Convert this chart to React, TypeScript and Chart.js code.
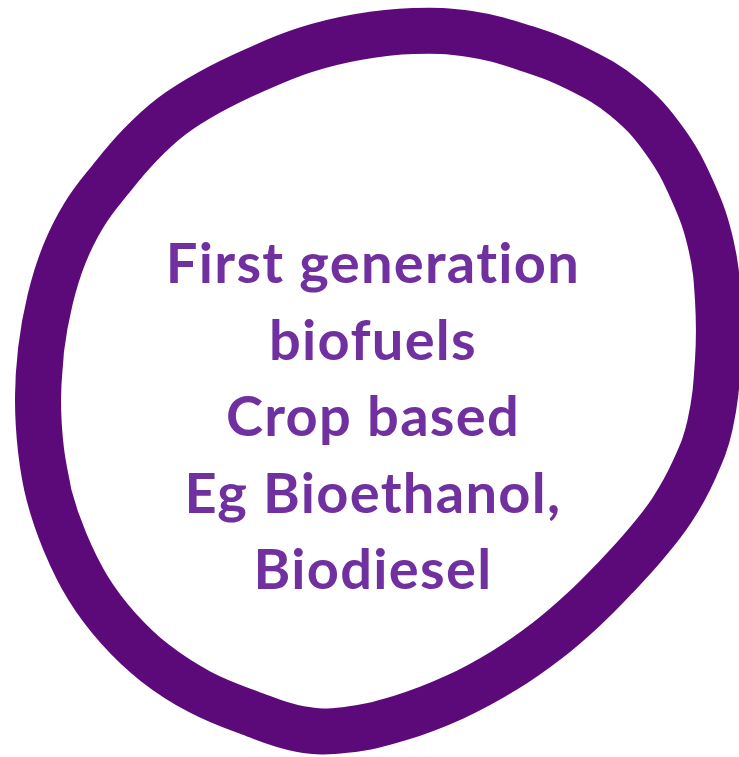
import React, { useEffect, useRef } from "react";
import { Chart, registerables } from "chart.js";

Chart.register(...registerables);

// Hand-drawn ring outline (centre line of the stroke)
const outlineX = [49, 41, 38, 41, 50, 64, 84, 110, 140, 172, 210, 255, 305, 358, 413, 470, 525, 578, 625, 664, 693, 711, 718, 718, 710, 694, 672, 645, 615, 583, 548, 505, 455, 400, 345, 300, 250, 200, 155, 118, 88, 65, 49, 41, 38, 41];
const outlineY = [495, 450, 400, 350, 300, 255, 215, 180, 145, 116, 92, 70, 50, 37, 31, 34, 48, 69, 98, 140, 192, 245, 300, 360, 425, 470, 510, 545, 578, 610, 640, 670, 697, 718, 730, 729, 713, 692, 663, 628, 588, 542, 495, 450, 400, 350];

const textLines = ["First generation", "biofuels", "Crop based", "Eg Bioethanol,", "Biodiesel"];

const RING_COLOR = "#5C0A7A";
const TEXT_COLOR = "#7030A0";

const centerTextPlugin = {
  id: "centerText",
  afterDatasetsDraw(chart: any) {
    const { ctx, scales } = chart;
    const xs = scales.x;
    const ys = scales.y;
    const cx = xs.getPixelForValue(373);
    const firstBase = ys.getPixelForValue(283);
    const step = ys.getPixelForValue(283 + 76.5) - firstBase;
    ctx.save();
    ctx.fillStyle = TEXT_COLOR;
    ctx.font = "bold 56px Lato";
    (ctx as any).letterSpacing = "1.3px";
    ctx.textAlign = "center";
    ctx.textBaseline = "alphabetic";
    textLines.forEach((line, i) => {
      ctx.fillText(line, cx, firstBase + i * step);
    });
    ctx.restore();
  },
};

export default function App() {
  const ref = useRef<HTMLCanvasElement | null>(null);
  useEffect(() => {
    if (!ref.current) return;
    const pts = outlineX.map((x, i) => ({ x, y: outlineY[i] }));
    const chart = new Chart(ref.current, {
      type: "scatter",
      data: {
        datasets: [
          {
            data: pts,
            showLine: true,
            borderColor: RING_COLOR,
            backgroundColor: RING_COLOR,
            borderWidth: 46,
            borderCapStyle: "round",
            borderJoinStyle: "round",
            tension: 0.4,
            pointRadius: 0,
            pointHoverRadius: 0,
            clip: false,
          } as any,
        ],
      },
      options: {
        responsive: false,
        animation: false,
        devicePixelRatio: 1,
        layout: { padding: 0 },
        plugins: {
          legend: { display: false },
          tooltip: { enabled: false },
          title: { display: false },
        },
        events: [],
        scales: {
          x: { type: "linear", min: 0, max: 739, display: false },
          y: { type: "linear", min: 0, max: 757, reverse: true, display: false },
        },
      },
      plugins: [centerTextPlugin],
    });
    return () => chart.destroy();
  }, []);
  return (
    <div style={{ position: "absolute", left: 0, top: 0, width: 739, height: 757, background: "#fff" }}>
      <canvas ref={ref} width={739} height={757} />
    </div>
  );
}
